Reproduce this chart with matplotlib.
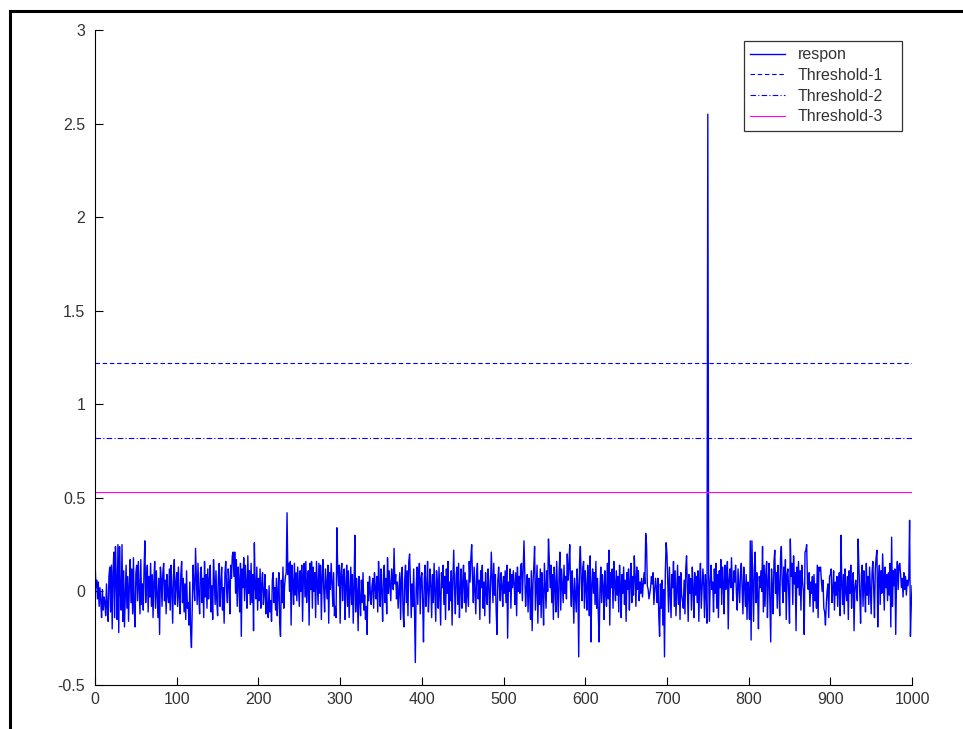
import numpy as np
import matplotlib.pyplot as plt
from matplotlib.lines import Line2D

plt.rcParams['font.family'] = ['Liberation Sans', 'DejaVu Sans']

# response samples, 100 per block
seg0 = [0.17, 0.02, 0.06, -0.04, 0.05, -0.08, 0.02, -0.05, -0.14, 0.01,
        -0.10, -0.03, -0.06, -0.13, 0.04, -0.09, -0.16, 0.08, 0.13, -0.11,
        0.14, -0.20, 0.10, 0.21, -0.14, 0.24, 0.06, -0.15, 0.25, -0.22,
        0.24, 0.00, -0.10, 0.25, -0.16, 0.11, -0.19, -0.02, 0.14, -0.09,
        0.08, -0.16, 0.03, 0.17, -0.06, 0.12, -0.12, 0.18, -0.10, -0.19,
        0.10, 0.14, -0.05, 0.16, 0.02, -0.12, 0.17, -0.07, 0.04, -0.10,
        0.12, 0.27, -0.06, 0.06, 0.14, -0.11, 0.08, -0.03, 0.15, -0.08,
        0.09, -0.14, 0.05, 0.16, -0.09, 0.11, -0.02, -0.14, 0.07, -0.23,
        0.13, 0.07, -0.08, 0.10, 0.15, -0.05, 0.06, -0.12, 0.09, -0.02,
        -0.06, 0.12, -0.10, 0.14, 0.01, -0.17, 0.08, 0.17, -0.07, 0.04]
seg1 = [0.10, -0.08, 0.13, -0.03, -0.12, 0.09, 0.16, -0.06, 0.07, -0.11,
        0.04, -0.15, 0.11, -0.09, -0.06, -0.18, 0.05, -0.22, -0.30, -0.08,
        0.14, 0.03, -0.05, 0.23, 0.08, -0.07, 0.15, -0.02, -0.12, 0.10,
        0.13, -0.06, 0.07, -0.14, 0.16, -0.03, 0.09, -0.09, 0.12, -0.04,
        0.06, 0.14, -0.11, 0.03, -0.15, 0.17, 0.06, -0.07, 0.11, -0.05,
        -0.13, 0.08, 0.15, -0.08, 0.04, 0.13, -0.10, 0.02, -0.17, 0.10,
        0.16, 0.01, -0.06, 0.12, 0.05, -0.12, 0.14, 0.07, 0.19, 0.21,
        0.08, 0.21, -0.01, 0.17, -0.08, 0.13, 0.06, -0.11, 0.15, -0.24,
        0.12, 0.02, 0.18, -0.05, 0.14, 0.04, -0.09, 0.19, -0.01, 0.11,
        -0.07, 0.15, -0.06, 0.09, -0.21, 0.26, 0.03, -0.04, 0.13, -0.10]
seg2 = [0.07, -0.05, 0.12, -0.09, 0.04, 0.10, -0.07, -0.01, 0.09, -0.12,
        0.01, -0.08, -0.14, 0.03, -0.11, -0.05, -0.16, 0.06, 0.10, -0.06,
        0.02, -0.10, 0.07, -0.13, 0.00, 0.10, -0.17, -0.24, 0.06, -0.06,
        0.13, -0.09, 0.03, 0.08, 0.10, 0.42, 0.09, 0.15, 0.00, 0.16,
        -0.18, 0.14, 0.05, -0.07, 0.15, -0.02, 0.10, -0.05, 0.13, 0.02,
        -0.08, 0.11, 0.00, 0.14, -0.16, 0.08, 0.15, -0.03, 0.16, -0.06,
        0.06, 0.11, -0.18, 0.15, 0.01, 0.16, -0.09, 0.13, 0.00, 0.10,
        -0.14, 0.16, 0.05, -0.07, 0.15, -0.01, 0.14, -0.15, 0.08, 0.17,
        0.00, -0.11, 0.12, 0.04, -0.04, 0.14, -0.17, 0.10, 0.01, 0.15,
        0.05, -0.08, 0.10, -0.13, -0.08, -0.14, 0.34, 0.12, 0.03, 0.14]
seg3 = [-0.17, 0.10, 0.15, -0.05, 0.08, 0.12, -0.15, 0.03, 0.14, -0.08,
        0.11, -0.14, -0.01, 0.13, -0.07, 0.09, -0.17, 0.02, 0.30, -0.11,
        0.07, 0.00, -0.21, 0.08, -0.04, -0.13, 0.06, -0.06, 0.10, -0.10,
        -0.02, -0.15, -0.08, -0.23, 0.05, -0.05, 0.08, -0.01, -0.07, 0.03,
        0.07, -0.09, 0.10, 0.02, -0.04, 0.08, -0.11, 0.16, 0.03, -0.08,
        0.12, 0.00, -0.16, 0.09, 0.14, -0.06, 0.07, -0.12, 0.18, -0.01,
        0.11, 0.03, -0.05, 0.12, 0.05, 0.01, 0.23, 0.04, 0.09, -0.04,
        0.05, -0.09, 0.01, 0.10, -0.15, 0.07, 0.13, -0.11, -0.19, 0.06,
        0.14, -0.06, 0.11, -0.13, 0.16, 0.20, 0.05, -0.14, 0.04, -0.08,
        0.12, -0.10, -0.38, 0.01, 0.13, -0.07, 0.09, 0.15, -0.12, 0.07]
seg4 = [0.10, -0.05, -0.27, 0.07, 0.14, -0.08, 0.02, 0.16, -0.11, -0.01,
        0.12, 0.03, -0.14, 0.09, -0.06, 0.15, 0.00, -0.16, 0.11, 0.04,
        -0.09, 0.13, -0.02, -0.18, 0.10, 0.02, 0.14, -0.07, 0.08, -0.15,
        0.12, -0.01, 0.16, -0.10, 0.05, -0.05, 0.11, -0.18, 0.06, 0.22,
        0.02, -0.12, 0.09, 0.13, -0.07, 0.15, -0.14, 0.01, 0.12, -0.09,
        0.05, 0.14, -0.06, 0.10, -0.11, 0.06, -0.01, -0.08, 0.16, 0.05,
        0.18, 0.25, 0.07, -0.06, 0.13, 0.00, -0.12, 0.09, 0.15, -0.04,
        0.06, -0.15, 0.11, 0.02, 0.14, -0.09, 0.05, -0.13, 0.10, -0.01,
        -0.07, 0.12, 0.05, -0.17, 0.01, 0.21, 0.08, -0.06, 0.15, -0.02,
        0.09, -0.11, -0.23, 0.06, 0.13, 0.02, -0.05, 0.10, 0.03, -0.08]
seg5 = [0.08, -0.01, 0.11, -0.06, 0.14, -0.25, 0.05, 0.00, 0.12, -0.09,
        0.09, 0.02, 0.11, 0.04, -0.07, 0.10, -0.13, 0.13, 0.00, 0.08,
        -0.01, 0.14, 0.15, -0.05, 0.10, 0.27, 0.09, -0.08, 0.02, 0.09,
        -0.11, 0.07, 0.00, -0.15, 0.11, -0.21, 0.04, 0.13, 0.24, -0.10,
        0.02, 0.14, -0.17, 0.07, -0.07, 0.12, -0.14, 0.10, -0.01, -0.18,
        0.15, 0.03, -0.09, 0.11, 0.00, 0.28, 0.17, 0.02, 0.14, -0.06,
        0.09, -0.15, 0.13, 0.04, -0.11, 0.16, 0.00, -0.14, 0.10, 0.21,
        -0.10, 0.12, 0.03, -0.06, 0.14, -0.01, 0.08, -0.04, 0.20, 0.06,
        0.13, 0.25, 0.02, -0.08, 0.11, 0.00, -0.17, 0.07, -0.02, -0.11,
        0.12, 0.03, -0.35, 0.15, 0.24, 0.07, -0.05, 0.13, 0.16, -0.09]
seg6 = [0.11, 0.02, -0.10, 0.14, 0.04, -0.13, 0.19, -0.27, 0.03, 0.12,
        -0.01, 0.10, -0.07, 0.16, -0.09, 0.07, -0.12, -0.27, 0.01, 0.13,
        -0.06, 0.09, 0.03, -0.15, 0.11, 0.00, -0.08, 0.15, -0.04, 0.22,
        -0.18, 0.10, 0.02, 0.12, -0.09, 0.16, 0.04, -0.05, 0.11, -0.02,
        0.08, -0.11, 0.14, 0.02, -0.14, 0.09, -0.01, 0.13, -0.07, 0.06,
        -0.16, 0.10, 0.01, 0.12, -0.10, 0.05, 0.15, -0.06, 0.08, -0.02,
        0.19, 0.08, -0.08, 0.13, 0.01, 0.11, -0.05, 0.05, -0.01, 0.07,
        -0.03, 0.04, 0.10, 0.04, 0.31, 0.25, 0.03, 0.01, -0.04, -0.01,
        0.02, 0.08, 0.04, 0.10, -0.07, 0.00, 0.07, 0.02, -0.06, 0.07,
        -0.13, -0.24, 0.04, -0.09, 0.06, -0.18, 0.01, -0.35, 0.10, 0.26]
seg7 = [0.20, 0.04, -0.11, 0.13, -0.01, -0.14, 0.09, 0.02, 0.16, -0.08,
        0.11, -0.13, 0.01, 0.14, -0.07, 0.08, -0.15, 0.10, -0.02, -0.05,
        -0.09, 0.06, -0.12, 0.12, 0.19, 0.01, -0.16, 0.09, -0.01, 0.07,
        -0.10, 0.13, 0.02, -0.14, 0.10, -0.02, 0.08, -0.06, 0.11, -0.16,
        0.05, 0.15, -0.09, 0.01, 0.12, 0.04, -0.14, 0.09, -0.01, -0.17,
        2.55, 0.10, -0.16, 0.06, 0.14, 0.01, 0.05, -0.11, 0.12, -0.01,
        0.15, -0.09, 0.09, -0.14, 0.11, 0.02, 0.17, -0.07, 0.13, 0.05,
        -0.12, 0.14, 0.01, 0.10, 0.16, -0.20, 0.06, 0.12, 0.02, 0.18,
        0.03, -0.05, 0.11, 0.05, 0.14, -0.01, -0.10, 0.12, 0.03, -0.06,
        0.10, 0.15, 0.01, -0.12, 0.13, 0.04, -0.08, 0.09, -0.15, 0.05]
seg8 = [0.01, -0.15, 0.27, -0.26, 0.27, 0.04, -0.16, 0.12, 0.21, -0.06,
        0.10, -0.01, -0.20, 0.08, 0.02, 0.11, 0.00, 0.24, -0.11, 0.14,
        -0.08, 0.09, 0.16, -0.14, 0.05, 0.15, -0.05, -0.27, 0.12, 0.02,
        -0.12, 0.16, 0.22, -0.01, 0.10, -0.09, 0.14, 0.03, -0.13, 0.18,
        0.24, 0.05, -0.06, 0.13, 0.00, 0.17, -0.15, 0.09, 0.12, -0.01,
        -0.17, 0.28, 0.08, 0.15, -0.07, 0.19, 0.04, 0.10, -0.21, 0.13,
        0.02, 0.16, -0.02, 0.11, -0.10, 0.14, 0.05, 0.00, -0.23, 0.21,
        0.22, 0.25, 0.04, 0.01, 0.10, -0.08, 0.05, -0.01, 0.08, -0.11,
        0.09, -0.05, 0.04, -0.09, 0.14, -0.14, 0.13, 0.11, 0.13, 0.06,
        0.00, 0.06, -0.09, -0.11, -0.18, -0.07, 0.00, 0.04, -0.14, 0.08]
seg9 = [0.09, 0.12, -0.06, 0.01, 0.11, -0.10, 0.05, -0.02, 0.08, -0.08,
        0.04, 0.10, -0.13, 0.30, 0.04, -0.07, 0.09, -0.12, 0.12, 0.00,
        -0.05, 0.08, -0.15, 0.11, -0.01, 0.14, -0.09, 0.05, 0.10, -0.21,
        0.02, 0.06, 0.00, -0.05, 0.28, 0.12, -0.01, -0.17, 0.09, 0.14,
        -0.08, 0.11, 0.02, -0.11, 0.15, -0.02, 0.08, -0.07, 0.13, 0.01,
        -0.12, 0.10, 0.16, 0.02, -0.14, 0.12, 0.18, 0.22, -0.19, 0.07,
        0.14, -0.07, 0.11, -0.01, 0.20, 0.04, -0.10, 0.13, 0.02, 0.09,
        -0.05, 0.10, -0.02, 0.15, -0.19, 0.29, -0.08, 0.11, 0.03, 0.12,
        -0.23, 0.07, 0.16, 0.01, 0.14, 0.15, 0.09, 0.02, 0.07, -0.03,
        0.10, 0.01, 0.08, -0.02, 0.06, 0.03, 0.07, 0.38, -0.24, -0.08]
tail = [0.03]

respon = seg0 + seg1 + seg2 + seg3 + seg4 + seg5 + seg6 + seg7 + seg8 + seg9 + tail
samples = np.arange(len(respon))

thresholds = [1.22, 0.82, 0.53]
labels = ['respon', 'Threshold-1', 'Threshold-2', 'Threshold-3']

fig = plt.figure(figsize=(9.63, 7.29), dpi=100)
ax = fig.add_axes([0.0987, 0.0604, 0.8484, 0.8985])

ax.plot(samples, respon, color='#0000ff', lw=1.0, label=labels[0])
ax.plot([0, 1000], [thresholds[0]] * 2, color='#0000ff', lw=0.8,
        dashes=(4, 2.5), label=labels[1])
ax.plot([0, 1000], [thresholds[1]] * 2, color='#0000ff', lw=0.8,
        dashes=(5, 2, 1, 2), label=labels[2])
ax.plot([0, 1000], [thresholds[2]] * 2, color='#ff00ff', lw=0.8,
        label=labels[3])

ax.set_xlim(0, 1000)
ax.set_ylim(-0.5, 3)
ax.set_xticks(np.arange(0, 1001, 100))
ax.set_yticks(np.arange(-0.5, 3.01, 0.5))
ax.set_yticklabels(['-0.5', '0', '0.5', '1', '1.5', '2', '2.5', '3'])

for side in ['top', 'right']:
    ax.spines[side].set_visible(False)
for side in ['left', 'bottom']:
    ax.spines[side].set_linewidth(0.8)
ax.tick_params(direction='in', length=6, width=0.8, labelsize=11.5,
               colors='black')
ax.tick_params(axis='x', pad=5)
ax.tick_params(axis='y', pad=7)
for t in ax.get_xticklabels() + ax.get_yticklabels():
    t.set_color('#333333')

leg = ax.legend(loc='upper left', bbox_to_anchor=(0.794, 0.838, 0.194, 0.145),
                mode='expand', borderaxespad=0, fancybox=False,
                edgecolor='black', fontsize=11.5, handlelength=2.2,
                handletextpad=0.8, labelspacing=0.35, borderpad=0.4)
leg.get_frame().set_linewidth(0.9)
for t in leg.get_texts():
    t.set_color('#333333')

# frame lines around the figure
fig.add_artist(Line2D([0.0109, 1.0], [0.9845, 0.9845], color='black', lw=2.2))
fig.add_artist(Line2D([0.0109, 0.0109], [0.0, 0.9845], color='black', lw=2.2))

fig.savefig('out.png', dpi=100)
